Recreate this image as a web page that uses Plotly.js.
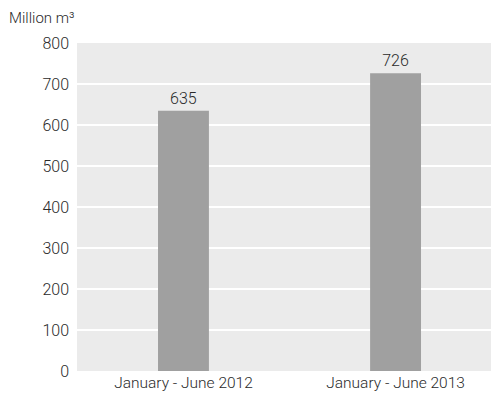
<!DOCTYPE html>
<html>
<head>
<meta charset="utf-8">
<script src="https://cdn.plot.ly/plotly-3.0.1.min.js"></script>
<style>html,body{margin:0;padding:0;background:#fff;}#chart{width:491px;height:402px;}</style>
</head>
<body>
<div id="chart"></div>
<script>
var categories = ["January - June 2012", "January - June 2013"];
var values = [635, 726];
var yTicks = [0, 100, 200, 300, 400, 500, 600, 700, 800];
var unitLabel = "Million m³";

var FONT = "Roboto, 'Liberation Sans', sans-serif";
var TXT = '#2a2a2a';

var trace = {
  type: 'bar',
  x: categories.map(function(c, i){ return i; }),
  y: values,
  text: values.map(String),
  textposition: 'outside',
  cliponaxis: false,
  textfont: {family: FONT, size: 16, color: TXT, weight: 300},
  marker: {color: '#a0a0a0'},
  hoverinfo: 'none'
};

var layout = {
  width: 491, height: 402,
  margin: {l: 77, r: 0, t: 42.5, b: 31},
  paper_bgcolor: '#ffffff',
  plot_bgcolor: '#ebebeb',
  bargap: 0.76,
  showlegend: false,
  font: {family: FONT, size: 15, color: TXT, weight: 300},
  xaxis: {
    type: 'linear',
    range: [-0.502, 1.45],
    tickmode: 'array',
    tickvals: categories.map(function(c, i){ return i; }),
    ticktext: categories,
    showgrid: false, zeroline: false, showline: false,
    ticks: '', ticklen: 0,
    tickfont: {family: FONT, size: 15.5, color: TXT, weight: 300}
  },
  yaxis: {
    range: [0, 800],
    tickmode: 'array',
    tickvals: yTicks,
    ticktext: yTicks.map(String),
    showgrid: true, gridcolor: '#ffffff', gridwidth: 1.5,
    zeroline: false, showline: false,
    ticks: '', ticklen: 0,
    ticklabelstandoff: 7,
    tickfont: {family: FONT, size: 16, color: TXT, weight: 300}
  },
  annotations: [{
    text: unitLabel,
    xref: 'paper', yref: 'paper',
    x: -0.17, y: 1.0, yshift: 25,
    xanchor: 'left', yanchor: 'middle',
    showarrow: false,
    font: {family: FONT, size: 15, color: TXT, weight: 300}
  }]
};

Plotly.newPlot('chart', [trace], layout, {displayModeBar: false, staticPlot: true});
</script>
</body>
</html>
